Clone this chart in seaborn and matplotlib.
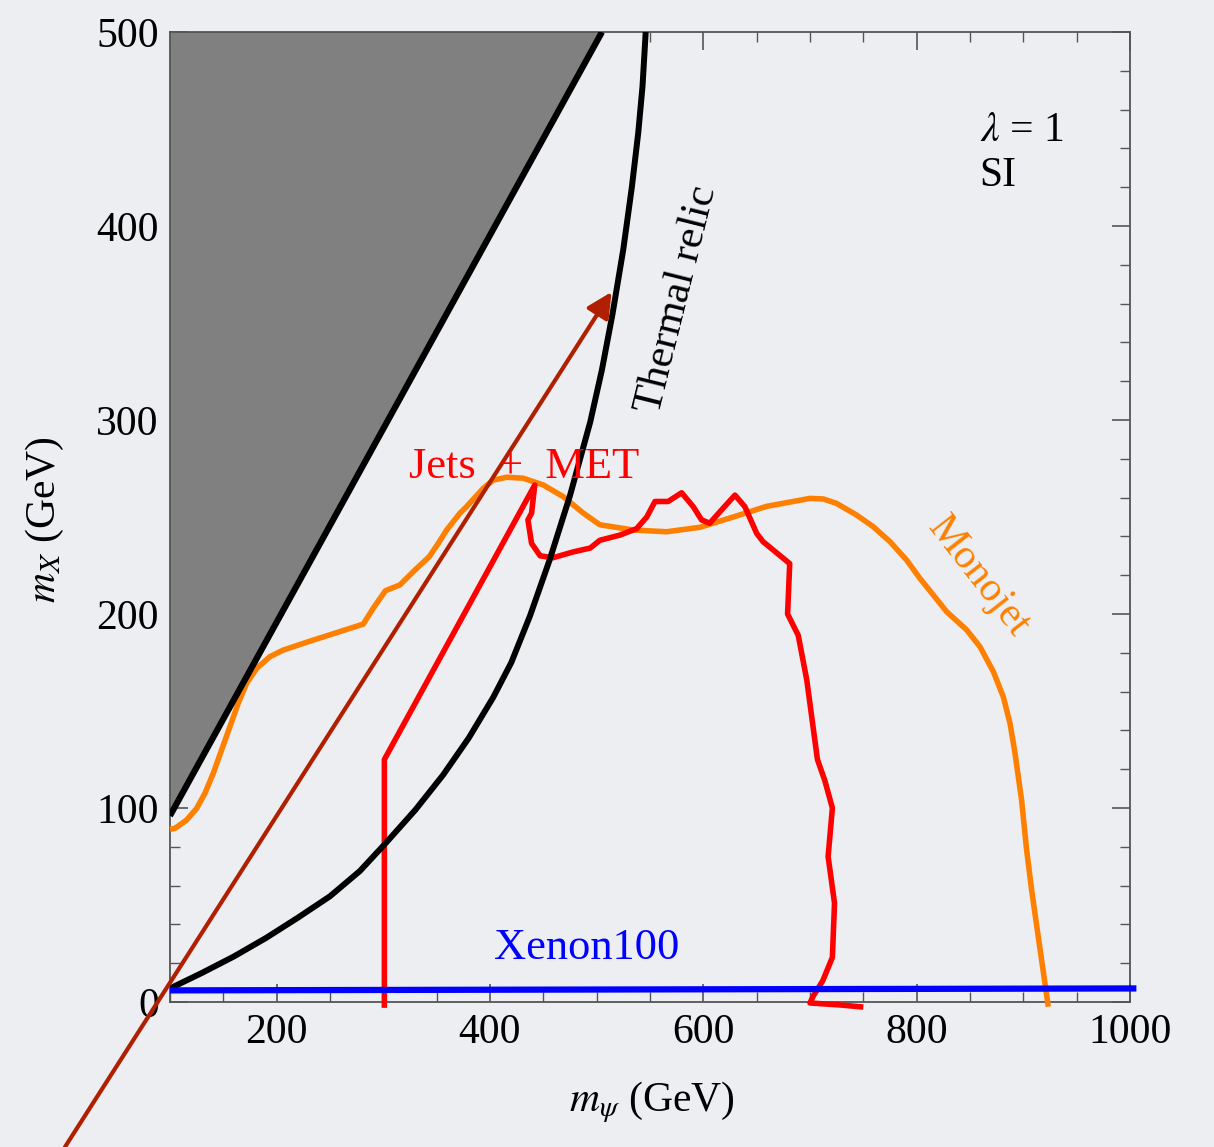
import numpy as np
import pandas as pd
import matplotlib
matplotlib.use("Agg")
import matplotlib.pyplot as plt
import seaborn as sns
from matplotlib.ticker import MultipleLocator

# ---------------- data ----------------
monojet_x = [100, 104.7, 115.6, 125, 132.8, 140.6, 148.4, 156.2, 164, 171.9, 181.3, 193.7,
             206.2, 231.2, 256.3, 281.2, 290.6, 302, 315.6, 329.7, 343, 351.5, 359.4, 371.9,
             378, 393.7, 403, 415.7, 431.2, 450, 468.7, 487.5, 503, 534.3, 565.6, 596.9,
             628, 659.4, 700, 712.5, 725, 743.7, 759.3, 775, 790.6, 803, 815.6, 828.1,
             846.9, 859.4, 871.9, 881.2, 887.5, 892, 898.4, 903.1, 907.8, 914, 920.3, 923.4]
monojet_y = [89, 89.5, 93.8, 99.8, 107.6, 117.9, 129.9, 141.9, 154, 164.3, 172, 178,
             181.4, 186, 190.4, 194.8, 203, 212, 215, 222.7, 229.5, 236.4, 243.3, 252,
             255.3, 264.8, 269, 270.5, 270, 266.5, 260.5, 252, 246, 243.3, 242.4, 244.7,
             250, 255.5, 259.6, 259.3, 257, 251, 245, 237.3, 227.8, 218.4, 209.8, 201.2,
             191.8, 183.1, 170.3, 157.4, 143.7, 129, 104, 78.4, 57.7, 33.7, 9.6, -2.4]

jets_x = [301, 301, 301, 442, 439, 435.6, 439, 447, 459, 478, 494, 503, 522, 537.5, 547,
          554.7, 567, 579.7, 590.6, 598.4, 606, 617, 629.7, 639, 650, 656, 681, 679, 689,
          697, 707, 714, 721, 717, 723, 721, 712, 703, 700, 728, 750]
jets_y = [-3, 0, 125, 266.5, 252, 248.5, 236.4, 230, 229, 232, 234, 238, 240.7, 244, 250,
          258, 258, 262.5, 255.3, 248.5, 246.8, 253.6, 261.3, 255.3, 241.6, 237.3, 226, 200, 189,
          166, 125, 114, 100, 75, 51, 23, 11, 3, -0.5, -1.5, -2.6]

relic_x = [100, 130, 160, 190, 220, 250, 278, 301.6, 330, 356, 380, 403, 420, 437.5, 456,
           475, 494, 505, 515, 525, 533, 539, 543, 546]
relic_y = [7, 15, 23.5, 33, 43.5, 54.5, 67.5, 81.5, 99, 117, 136, 157, 175, 199, 228,
           261, 299, 326, 355, 388, 420, 448, 472, 500]

boundary_x = [100, 505]
boundary_y = [96, 500]

xenon_x = [100, 1006]
xenon_y = [6, 7]

arrow_start = (1.6, -74.7)
arrow_end = (514, 366)

xticks = [200, 400, 600, 800, 1000]
yticks = [0, 100, 200, 300, 400, 500]

# ---------------- style ----------------
bg = "#eceef2"
sns.set_theme(style="ticks")
plt.rcParams["font.family"] = ["Liberation Serif", "DejaVu Serif"]
plt.rcParams["mathtext.fontset"] = "stix"
plt.rcParams["figure.facecolor"] = bg
plt.rcParams["axes.facecolor"] = bg
plt.rcParams["text.color"] = "black"
plt.rcParams["axes.labelcolor"] = "black"

fig = plt.figure(figsize=(12.14, 11.47), dpi=100)
ax = fig.add_axes([0.1400, 0.1264, 0.9308 - 0.1400, 0.9721 - 0.1264])
ax.set_facecolor(bg)

# excluded (gray) region
ax.fill([boundary_x[0], boundary_x[1], boundary_x[0]],
        [boundary_y[0], boundary_y[1], boundary_y[1]],
        color="#808080", zorder=1, lw=0)

def curve(xs, ys, color, lw, z=3, clip=True):
    df = pd.DataFrame({"x": xs, "y": ys})
    sns.lineplot(data=df, x="x", y="y", sort=False, estimator=None, color=color,
                 lw=lw, ax=ax, zorder=z)
    ln = ax.lines[-1]
    ln.set_clip_on(clip)
    ln.set_solid_joinstyle("round")
    ln.set_solid_capstyle("butt")

curve(boundary_x, boundary_y, "black", 4.5, z=4)
curve(monojet_x, monojet_y, "#ff8000", 4.0, z=3, clip=False)
curve(jets_x, jets_y, "#ff0000", 4.0, z=3, clip=False)
curve(relic_x, relic_y, "black", 4.3, z=4)
curve(xenon_x, xenon_y, "#0000ff", 4.5, z=5, clip=False)

ax.annotate("", xy=arrow_end, xytext=arrow_start, annotation_clip=False,
            arrowprops=dict(arrowstyle="-|>", color="#b02000", lw=3.0,
                            mutation_scale=38, shrinkA=0, shrinkB=0), zorder=4)

ax.set_xlim(100, 1000)
ax.set_ylim(0, 500)
ax.set_xticks(xticks)
ax.set_yticks(yticks)
ax.xaxis.set_minor_locator(MultipleLocator(50))
ax.yaxis.set_minor_locator(MultipleLocator(20))
ax.tick_params(which="both", direction="in", top=True, right=True, color="#555555")
ax.tick_params(which="major", length=13, width=1.2, labelsize=30, pad=8, labelcolor="black")
ax.tick_params(which="minor", length=7, width=1.0)
for s in ax.spines.values():
    s.set_color("#555555")
    s.set_linewidth(1.3)

ax.set_xlabel(r"$m_\psi$ (GeV)", fontsize=30, color="black")
ax.set_ylabel(r"$m_X$ (GeV)", fontsize=30, color="black")
ax.xaxis.set_label_coords(0.502, -0.080)
ax.yaxis.set_label_coords(-0.108, 0.497)

ax.text(432, 276, "Jets  +  MET", color="#ff0000", fontsize=32, ha="center", va="center", zorder=6)
ax.text(491, 28, "Xenon100", color="#0000ff", fontsize=32, ha="center", va="center", zorder=6)
ax.text(576, 362, "Thermal relic", color="black", fontsize=31, rotation=76,
        ha="center", va="center", rotation_mode="anchor", zorder=6)
ax.text(858, 219, "Monojet", color="#ff8000", fontsize=30, rotation=-52,
        ha="center", va="center", rotation_mode="anchor", zorder=6)
ax.text(859, 449, r"$\lambda$ = 1", color="black", fontsize=30, ha="left", va="center")
ax.text(859, 426, "SI", color="black", fontsize=30, ha="left", va="center")

fig.savefig("out.png", dpi=100, facecolor=bg)
